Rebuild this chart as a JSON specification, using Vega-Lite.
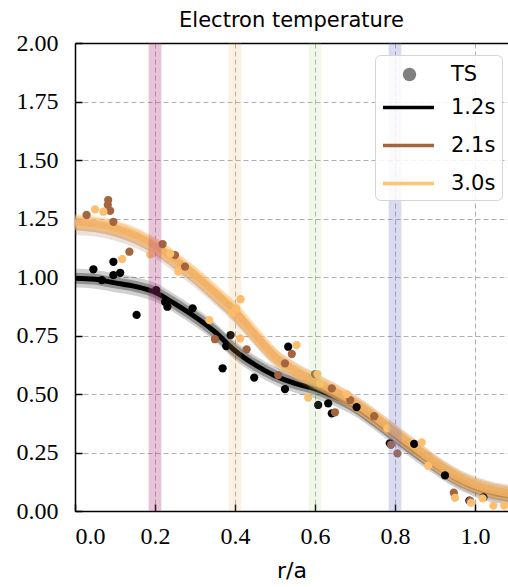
{
  "$schema": "https://vega.github.io/schema/vega-lite/v6.json",
  "width": 433,
  "height": 468,
  "autosize": {"type": "none"},
  "padding": {"left": 75, "top": 43, "right": 0, "bottom": 76},
  "background": "white",
  "title": {"text": "Electron temperature", "font": "DejaVu Sans", "fontSize": 21, "fontWeight": "normal", "color": "black", "offset": 0},
  "config": {
    "view": {"stroke": null},
    "axis": {
      "labelFont": "Liberation Serif", "labelFontSize": 24, "labelColor": "black",
      "domainColor": "black", "domainWidth": 1.5,
      "tickColor": "black", "tickWidth": 1.5, "tickSize": -7,
      "gridColor": "#b0b0b0", "gridDash": [5, 3], "gridWidth": 1,
      "titleFont": "DejaVu Sans", "titleFontSize": 22, "titleFontWeight": "normal", "titleColor": "black"
    }
  },
  "datasets": {
    "ts": [
      {"r": 0.046, "T": 1.033, "time": "1.2s"}, {"r": 0.067, "T": 0.987, "time": "1.2s"}, {"r": 0.096, "T": 1.065, "time": "1.2s"},
      {"r": 0.096, "T": 1.008, "time": "1.2s"}, {"r": 0.113, "T": 1.018, "time": "1.2s"}, {"r": 0.154, "T": 0.838, "time": "1.2s"},
      {"r": 0.203, "T": 0.944, "time": "1.2s"}, {"r": 0.225, "T": 0.894, "time": "1.2s"}, {"r": 0.231, "T": 0.873, "time": "1.2s"},
      {"r": 0.294, "T": 0.866, "time": "1.2s"}, {"r": 0.369, "T": 0.61, "time": "1.2s"}, {"r": 0.378, "T": 0.705, "time": "1.2s"},
      {"r": 0.389, "T": 0.752, "time": "1.2s"}, {"r": 0.448, "T": 0.57, "time": "1.2s"}, {"r": 0.525, "T": 0.521, "time": "1.2s"},
      {"r": 0.533, "T": 0.702, "time": "1.2s"}, {"r": 0.608, "T": 0.453, "time": "1.2s"}, {"r": 0.633, "T": 0.46, "time": "1.2s"},
      {"r": 0.642, "T": 0.417, "time": "1.2s"}, {"r": 0.704, "T": 0.444, "time": "1.2s"}, {"r": 0.787, "T": 0.289, "time": "1.2s"},
      {"r": 0.848, "T": 0.287, "time": "1.2s"}, {"r": 0.925, "T": 0.152, "time": "1.2s"}, {"r": 0.986, "T": 0.044, "time": "1.2s"},
      {"r": 1.021, "T": 0.058, "time": "1.2s"},
      {"r": 0.029, "T": 1.265, "time": "2.1s"}, {"r": 0.082, "T": 1.308, "time": "2.1s"}, {"r": 0.083, "T": 1.329, "time": "2.1s"},
      {"r": 0.088, "T": 1.283, "time": "2.1s"}, {"r": 0.096, "T": 1.236, "time": "2.1s"}, {"r": 0.136, "T": 1.108, "time": "2.1s"},
      {"r": 0.219, "T": 1.141, "time": "2.1s"}, {"r": 0.25, "T": 1.094, "time": "2.1s"}, {"r": 0.275, "T": 1.044, "time": "2.1s"},
      {"r": 0.35, "T": 0.734, "time": "2.1s"}, {"r": 0.429, "T": 0.691, "time": "2.1s"}, {"r": 0.508, "T": 0.581, "time": "2.1s"},
      {"r": 0.525, "T": 0.631, "time": "2.1s"}, {"r": 0.542, "T": 0.671, "time": "2.1s"}, {"r": 0.6, "T": 0.585, "time": "2.1s"},
      {"r": 0.642, "T": 0.524, "time": "2.1s"}, {"r": 0.65, "T": 0.422, "time": "2.1s"}, {"r": 0.688, "T": 0.474, "time": "2.1s"},
      {"r": 0.748, "T": 0.405, "time": "2.1s"}, {"r": 0.79, "T": 0.283, "time": "2.1s"}, {"r": 0.806, "T": 0.246, "time": "2.1s"},
      {"r": 0.947, "T": 0.078, "time": "2.1s"}, {"r": 0.988, "T": 0.043, "time": "2.1s"},
      {"r": 0.05, "T": 1.289, "time": "3.0s"}, {"r": 0.071, "T": 1.279, "time": "3.0s"}, {"r": 0.118, "T": 1.077, "time": "3.0s"},
      {"r": 0.188, "T": 1.097, "time": "3.0s"}, {"r": 0.238, "T": 1.1, "time": "3.0s"}, {"r": 0.258, "T": 1.023, "time": "3.0s"},
      {"r": 0.336, "T": 0.816, "time": "3.0s"}, {"r": 0.392, "T": 0.847, "time": "3.0s"}, {"r": 0.403, "T": 0.866, "time": "3.0s"},
      {"r": 0.414, "T": 0.905, "time": "3.0s"}, {"r": 0.413, "T": 0.738, "time": "3.0s"}, {"r": 0.554, "T": 0.709, "time": "3.0s"},
      {"r": 0.583, "T": 0.485, "time": "3.0s"}, {"r": 0.606, "T": 0.585, "time": "3.0s"}, {"r": 0.613, "T": 0.546, "time": "3.0s"},
      {"r": 0.679, "T": 0.5, "time": "3.0s"}, {"r": 0.781, "T": 0.353, "time": "3.0s"}, {"r": 0.867, "T": 0.293, "time": "3.0s"},
      {"r": 0.883, "T": 0.193, "time": "3.0s"}, {"r": 0.95, "T": 0.056, "time": "3.0s"}, {"r": 0.99, "T": 0.035, "time": "3.0s"},
      {"r": 1.019, "T": 0.054, "time": "3.0s"}, {"r": 1.046, "T": 0.023, "time": "3.0s"}, {"r": 1.073, "T": 0.023, "time": "3.0s"}
    ],
    "fit": [
      {"r": 0, "T": 0.995, "lo": 0.955, "hi": 1.035, "time": "1.2s"},
      {"r": 0.05, "T": 0.99, "lo": 0.95, "hi": 1.03, "time": "1.2s"},
      {"r": 0.1, "T": 0.975, "lo": 0.935, "hi": 1.015, "time": "1.2s"},
      {"r": 0.15, "T": 0.96, "lo": 0.92, "hi": 1.0, "time": "1.2s"},
      {"r": 0.2, "T": 0.935, "lo": 0.895, "hi": 0.975, "time": "1.2s"},
      {"r": 0.25, "T": 0.885, "lo": 0.845, "hi": 0.925, "time": "1.2s"},
      {"r": 0.3, "T": 0.83, "lo": 0.79, "hi": 0.87, "time": "1.2s"},
      {"r": 0.35, "T": 0.765, "lo": 0.725, "hi": 0.805, "time": "1.2s"},
      {"r": 0.4, "T": 0.685, "lo": 0.645, "hi": 0.725, "time": "1.2s"},
      {"r": 0.45, "T": 0.625, "lo": 0.585, "hi": 0.665, "time": "1.2s"},
      {"r": 0.5, "T": 0.578, "lo": 0.538, "hi": 0.618, "time": "1.2s"},
      {"r": 0.55, "T": 0.545, "lo": 0.505, "hi": 0.585, "time": "1.2s"},
      {"r": 0.6, "T": 0.522, "lo": 0.482, "hi": 0.562, "time": "1.2s"},
      {"r": 0.65, "T": 0.488, "lo": 0.448, "hi": 0.528, "time": "1.2s"},
      {"r": 0.7, "T": 0.445, "lo": 0.405, "hi": 0.485, "time": "1.2s"},
      {"r": 0.75, "T": 0.385, "lo": 0.345, "hi": 0.425, "time": "1.2s"},
      {"r": 0.8, "T": 0.32, "lo": 0.28, "hi": 0.36, "time": "1.2s"},
      {"r": 0.85, "T": 0.255, "lo": 0.215, "hi": 0.295, "time": "1.2s"},
      {"r": 0.9, "T": 0.195, "lo": 0.155, "hi": 0.235, "time": "1.2s"},
      {"r": 0.95, "T": 0.14, "lo": 0.1, "hi": 0.18, "time": "1.2s"},
      {"r": 1.0, "T": 0.1, "lo": 0.06, "hi": 0.14, "time": "1.2s"},
      {"r": 1.05, "T": 0.075, "lo": 0.035, "hi": 0.115, "time": "1.2s"},
      {"r": 1.1, "T": 0.06, "lo": 0.02, "hi": 0.1, "time": "1.2s"},
      {"r": 0, "T": 1.22, "lo": 1.18, "hi": 1.26, "time": "2.1s"},
      {"r": 0.05, "T": 1.213, "lo": 1.173, "hi": 1.253, "time": "2.1s"},
      {"r": 0.1, "T": 1.195, "lo": 1.155, "hi": 1.235, "time": "2.1s"},
      {"r": 0.15, "T": 1.165, "lo": 1.125, "hi": 1.205, "time": "2.1s"},
      {"r": 0.2, "T": 1.12, "lo": 1.08, "hi": 1.16, "time": "2.1s"},
      {"r": 0.25, "T": 1.06, "lo": 1.02, "hi": 1.1, "time": "2.1s"},
      {"r": 0.3, "T": 0.995, "lo": 0.955, "hi": 1.035, "time": "2.1s"},
      {"r": 0.35, "T": 0.92, "lo": 0.88, "hi": 0.96, "time": "2.1s"},
      {"r": 0.4, "T": 0.84, "lo": 0.8, "hi": 0.88, "time": "2.1s"},
      {"r": 0.45, "T": 0.745, "lo": 0.705, "hi": 0.785, "time": "2.1s"},
      {"r": 0.5, "T": 0.655, "lo": 0.615, "hi": 0.695, "time": "2.1s"},
      {"r": 0.55, "T": 0.597, "lo": 0.557, "hi": 0.637, "time": "2.1s"},
      {"r": 0.6, "T": 0.552, "lo": 0.512, "hi": 0.592, "time": "2.1s"},
      {"r": 0.65, "T": 0.507, "lo": 0.467, "hi": 0.547, "time": "2.1s"},
      {"r": 0.7, "T": 0.457, "lo": 0.417, "hi": 0.497, "time": "2.1s"},
      {"r": 0.75, "T": 0.397, "lo": 0.357, "hi": 0.437, "time": "2.1s"},
      {"r": 0.8, "T": 0.332, "lo": 0.292, "hi": 0.372, "time": "2.1s"},
      {"r": 0.85, "T": 0.268, "lo": 0.228, "hi": 0.308, "time": "2.1s"},
      {"r": 0.9, "T": 0.203, "lo": 0.163, "hi": 0.243, "time": "2.1s"},
      {"r": 0.95, "T": 0.148, "lo": 0.108, "hi": 0.188, "time": "2.1s"},
      {"r": 1.0, "T": 0.108, "lo": 0.068, "hi": 0.148, "time": "2.1s"},
      {"r": 1.05, "T": 0.083, "lo": 0.043, "hi": 0.123, "time": "2.1s"},
      {"r": 1.1, "T": 0.068, "lo": 0.028, "hi": 0.108, "time": "2.1s"},
      {"r": 0, "T": 1.235, "lo": 1.2, "hi": 1.27, "time": "3.0s"},
      {"r": 0.05, "T": 1.228, "lo": 1.193, "hi": 1.263, "time": "3.0s"},
      {"r": 0.1, "T": 1.21, "lo": 1.175, "hi": 1.245, "time": "3.0s"},
      {"r": 0.15, "T": 1.18, "lo": 1.145, "hi": 1.215, "time": "3.0s"},
      {"r": 0.2, "T": 1.135, "lo": 1.1, "hi": 1.17, "time": "3.0s"},
      {"r": 0.25, "T": 1.075, "lo": 1.04, "hi": 1.11, "time": "3.0s"},
      {"r": 0.3, "T": 1.01, "lo": 0.975, "hi": 1.045, "time": "3.0s"},
      {"r": 0.35, "T": 0.935, "lo": 0.9, "hi": 0.97, "time": "3.0s"},
      {"r": 0.4, "T": 0.855, "lo": 0.82, "hi": 0.89, "time": "3.0s"},
      {"r": 0.45, "T": 0.755, "lo": 0.72, "hi": 0.79, "time": "3.0s"},
      {"r": 0.5, "T": 0.66, "lo": 0.625, "hi": 0.695, "time": "3.0s"},
      {"r": 0.55, "T": 0.6, "lo": 0.565, "hi": 0.635, "time": "3.0s"},
      {"r": 0.6, "T": 0.555, "lo": 0.52, "hi": 0.59, "time": "3.0s"},
      {"r": 0.65, "T": 0.51, "lo": 0.475, "hi": 0.545, "time": "3.0s"},
      {"r": 0.7, "T": 0.46, "lo": 0.425, "hi": 0.495, "time": "3.0s"},
      {"r": 0.75, "T": 0.4, "lo": 0.365, "hi": 0.435, "time": "3.0s"},
      {"r": 0.8, "T": 0.335, "lo": 0.3, "hi": 0.37, "time": "3.0s"},
      {"r": 0.85, "T": 0.27, "lo": 0.235, "hi": 0.305, "time": "3.0s"},
      {"r": 0.9, "T": 0.205, "lo": 0.17, "hi": 0.24, "time": "3.0s"},
      {"r": 0.95, "T": 0.15, "lo": 0.115, "hi": 0.185, "time": "3.0s"},
      {"r": 1.0, "T": 0.11, "lo": 0.075, "hi": 0.145, "time": "3.0s"},
      {"r": 1.05, "T": 0.085, "lo": 0.05, "hi": 0.12, "time": "3.0s"},
      {"r": 1.1, "T": 0.07, "lo": 0.035, "hi": 0.105, "time": "3.0s"}
    ],
    "bands": [
      {"r0": 0.184, "r1": 0.216, "loc": "0.2"},
      {"r0": 0.384, "r1": 0.416, "loc": "0.4"},
      {"r0": 0.584, "r1": 0.616, "loc": "0.6"},
      {"r0": 0.784, "r1": 0.816, "loc": "0.8"}
    ]
  },
  "layer": [
    {
      "data": {"name": "fit"},
      "transform": [{"filter": "datum.time === '1.2s'"}],
      "layer": [
        {"mark": {"type": "area", "fillOpacity": 0.18, "clip": true, "interpolate": "monotone"},
         "encoding": {"y": {"field": "lo", "type": "quantitative", "title": null}, "y2": {"field": "hi"},
                      "fill": {"field": "time", "type": "nominal", "legend": null,
                               "scale": {"domain": ["3.0s", "2.1s", "1.2s"], "range": ["#fdbf6f", "#a2653f", "#000000"]}}}},
        {"mark": {"type": "line", "strokeWidth": 5, "clip": true, "interpolate": "monotone"},
         "encoding": {"y": {"field": "T", "type": "quantitative", "title": null},
                      "stroke": {"field": "time", "type": "nominal",
                                 "scale": {"domain": ["1.2s", "2.1s", "3.0s"], "range": ["#000000", "#a2653f", "#ffc46f"]},
                                 "legend": {
                                   "title": " ", "titleFontSize": 20, "titlePadding": -1,
                                   "orient": "none", "legendX": 300, "legendY": 12,
                                   "padding": 6, "fillColor": "rgba(255,255,255,0.85)", "strokeColor": "#d5d5d5", "cornerRadius": 5,
                                   "labelFont": "DejaVu Sans", "labelFontSize": 21, "labelColor": "black", "labelOffset": 15,
                                   "rowPadding": -8, "symbolType": "stroke", "symbolSize": 2600, "symbolStrokeWidth": 3.5}}}},
        {"mark": {"type": "line", "strokeWidth": 11, "strokeOpacity": 0.3, "clip": true, "interpolate": "monotone"},
         "encoding": {"y": {"field": "T", "type": "quantitative", "title": null},
                      "stroke": {"field": "time", "type": "nominal"}}}
      ],
      "encoding": {
        "x": {"field": "r", "type": "quantitative", "title": null, "axis": null, "scale": {"domain": [0, 1.0825], "nice": false, "zero": false}}
      }
    },
    {
      "data": {"name": "fit"},
      "transform": [{"filter": "datum.time === '2.1s'"}],
      "layer": [
        {"mark": {"type": "area", "fillOpacity": 0.2, "clip": true, "interpolate": "monotone"},
         "encoding": {"y": {"field": "lo", "type": "quantitative", "title": null}, "y2": {"field": "hi"},
                      "fill": {"field": "time", "type": "nominal", "legend": null}}},
        {"mark": {"type": "line", "strokeWidth": 10, "strokeOpacity": 0.35, "clip": true, "interpolate": "monotone"},
         "encoding": {"y": {"field": "T", "type": "quantitative", "title": null},
                      "stroke": {"field": "time", "type": "nominal"}}}
      ],
      "encoding": {
        "x": {"field": "r", "type": "quantitative", "title": null, "axis": null}
      }
    },
    {
      "data": {"name": "fit"},
      "transform": [{"filter": "datum.time === '3.0s'"}],
      "layer": [
        {"mark": {"type": "area", "fillOpacity": 0.25, "clip": true, "interpolate": "monotone"},
         "encoding": {"y": {"field": "lo", "type": "quantitative", "title": null}, "y2": {"field": "hi"},
                      "fill": {"field": "time", "type": "nominal", "legend": null}}},
        {"mark": {"type": "line", "strokeWidth": 13, "strokeOpacity": 0.5, "clip": true, "interpolate": "monotone"},
         "encoding": {"y": {"field": "T", "type": "quantitative", "title": null},
                      "stroke": {"field": "time", "type": "nominal"}}},
        {"mark": {"type": "line", "strokeWidth": 7, "strokeOpacity": 0.85, "clip": true, "interpolate": "monotone"},
         "encoding": {"y": {"field": "T", "type": "quantitative", "title": null},
                      "stroke": {"value": "#f2b264"}}}
      ],
      "encoding": {
        "x": {"field": "r", "type": "quantitative", "title": null, "axis": null}
      }
    },
    {
      "data": {"name": "ts"},
      "mark": {"type": "point", "filled": true, "size": 68, "opacity": 1, "clip": true},
      "encoding": {
        "x": {"field": "r", "type": "quantitative", "title": "r/a",
              "axis": {"values": [0, 0.2, 0.4, 0.6, 0.8, 1.0], "format": ".1f", "grid": true, "labelPadding": 20, "titlePadding": 12,
                       "labelFont": "Liberation Serif", "labelFontSize": 24}},
        "y": {"field": "T", "type": "quantitative", "title": null,
              "scale": {"domain": [0, 2], "nice": false, "zero": true},
              "axis": {"values": [0, 0.25, 0.5, 0.75, 1.0, 1.25, 1.5, 1.75, 2.0], "format": ".2f", "grid": true, "labelPadding": 24,
                       "labelFont": "Liberation Serif", "labelFontSize": 24}},
        "fill": {"field": "time", "type": "nominal", "legend": null},
        "shape": {"datum": "TS", "type": "nominal",
                  "scale": {"domain": ["TS"], "range": ["circle"]},
                  "legend": {"title": null, "orient": "none", "legendX": 324, "legendY": 21, "padding": 0,
                             "labelFont": "DejaVu Sans", "labelFontSize": 21, "labelColor": "black", "labelOffset": 31,
                             "symbolSize": 180, "symbolFillColor": "#808080", "symbolStrokeColor": "transparent", "symbolStrokeWidth": 0}}
      }
    },
    {
      "data": {"name": "bands"},
      "mark": {"type": "rect"},
      "encoding": {
        "x": {"field": "r0", "type": "quantitative", "title": null,
              "axis": {"orient": "top", "labels": false, "ticks": false, "grid": false, "domain": true}},
        "x2": {"field": "r1"},
        "color": {"field": "loc", "type": "nominal", "legend": null,
                 "scale": {"domain": ["0.2", "0.4", "0.6", "0.8"],
                           "range": ["rgba(180,60,130,0.3)", "rgba(245,165,80,0.16)", "rgba(150,200,110,0.14)", "rgba(120,120,200,0.27)"]}}
      }
    }
  ],
  "resolve": {"axis": {"x": "independent"}}
}
